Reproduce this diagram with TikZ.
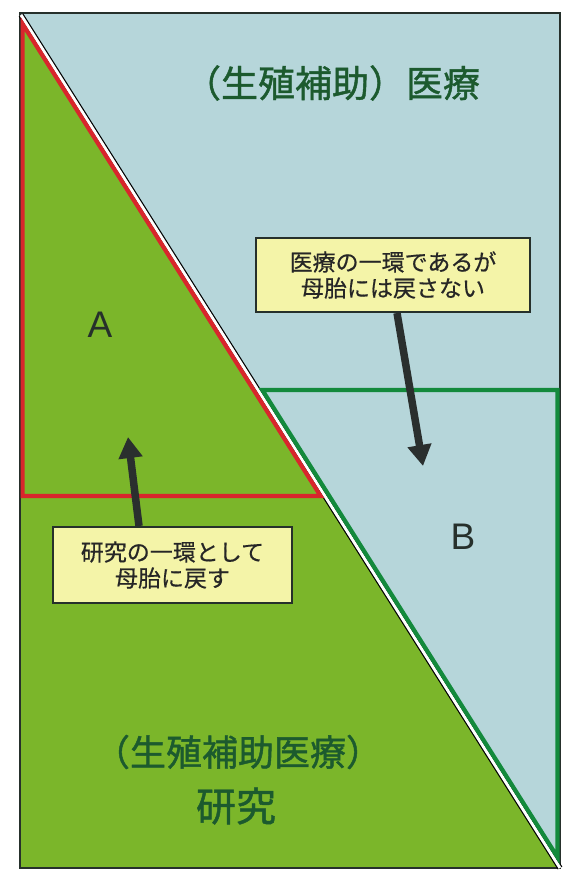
\documentclass[tikz,border=0pt]{standalone}
\usepackage{fontspec}
\setmainfont{Noto Sans CJK JP}
\newfontfamily\jptitle{Noto Sans CJK JP}[FakeBold=1.2]
\newfontfamily\jpbox{Noto Sans CJK JP}[FakeBold=0.5]
\newfontfamily\latinfont{Liberation Sans}
\usetikzlibrary{arrows.meta}
\definecolor{bluebg}{HTML}{B6D6DA}
\definecolor{greenbg}{HTML}{7BB62A}
\definecolor{titlegreen}{HTML}{1C5A2E}
\definecolor{boxyellow}{HTML}{F4F4A8}
\definecolor{redline}{HTML}{D8262C}
\definecolor{greenline}{HTML}{138A3C}
\definecolor{darkline}{HTML}{26302B}
\definecolor{arrowdark}{HTML}{2A2F2E}
\tikzset{
  frame/.style={draw=darkline,line width=1.6pt},
  notebox/.style={draw=darkline,line width=2pt,fill=boxyellow,
    align=center,inner sep=0pt,text=black!85,font=\jpbox\fontsize{23}{26}\selectfont},
  bigarrow/.style={draw=arrowdark,line width=7.5pt,-{Triangle[width=23pt,length=21pt]}},
  title/.style={text=titlegreen,inner sep=0pt},
  letter/.style={text=darkline,font=\latinfont\fontsize{37}{40}\selectfont,inner sep=0pt},
  outlinered/.style={draw=redline,line width=4.2pt,miter limit=20},
  outlinegreen/.style={draw=greenline,line width=4.2pt,miter limit=20}
}
\begin{document}
\begin{tikzpicture}[x=1pt,y=-1pt]
\useasboundingbox (0,0) rectangle (572,874);
\fill[white] (0,0) rectangle (572,874);
% backgrounds
\fill[bluebg] (20,13) rectangle (560,868);
\fill[greenbg] (20,15) -- (560,868) -- (20,868) -- cycle;
\draw[frame] (20,13) rectangle (560,868);
% diagonal
\draw[draw=black,line width=5.4pt] (21,15) -- (560,868);
\draw[draw=white,line width=3pt] (21,15) -- (560,868);
% region A (red) and B (green)
\draw[outlinered] (22.6,24) -- (320.6,496) -- (22.6,496) -- cycle;
\draw[outlinegreen] (262.3,390) -- (557.4,390) -- (557.4,857) -- cycle;
% titles
\node[title,font=\jptitle\fontsize{37}{40}\selectfont] (top) at (332,83) {（生殖補助）医療};
\node[title,font=\jptitle\fontsize{36}{40}\selectfont] (bot1) at (238,752) {（生殖補助医療）};
\node[title,font=\jptitle\fontsize{40}{44}\selectfont] (bot2) at (236,806) {研究};
% letters
\node[letter] (A) at (100,325) {A};
\node[letter] (B) at (463,537) {B};
% boxes
\node[notebox,minimum width=274pt,minimum height=74pt] (box1) at (393,275)
  {医療の一環であるが\\母胎には戻さない};
\node[notebox,minimum width=239pt,minimum height=76pt] (box2) at (172.5,565)
  {研究の一環として\\母胎に戻す};
% arrows
\coordinate (t1) at (423,466);
\coordinate (t2) at (128,437);
\draw[bigarrow] ([xshift=4pt]box1.south) -- (t1);
\draw[bigarrow] ([xshift=-33.5pt]box2.north) -- (t2);
\end{tikzpicture}
\end{document}
